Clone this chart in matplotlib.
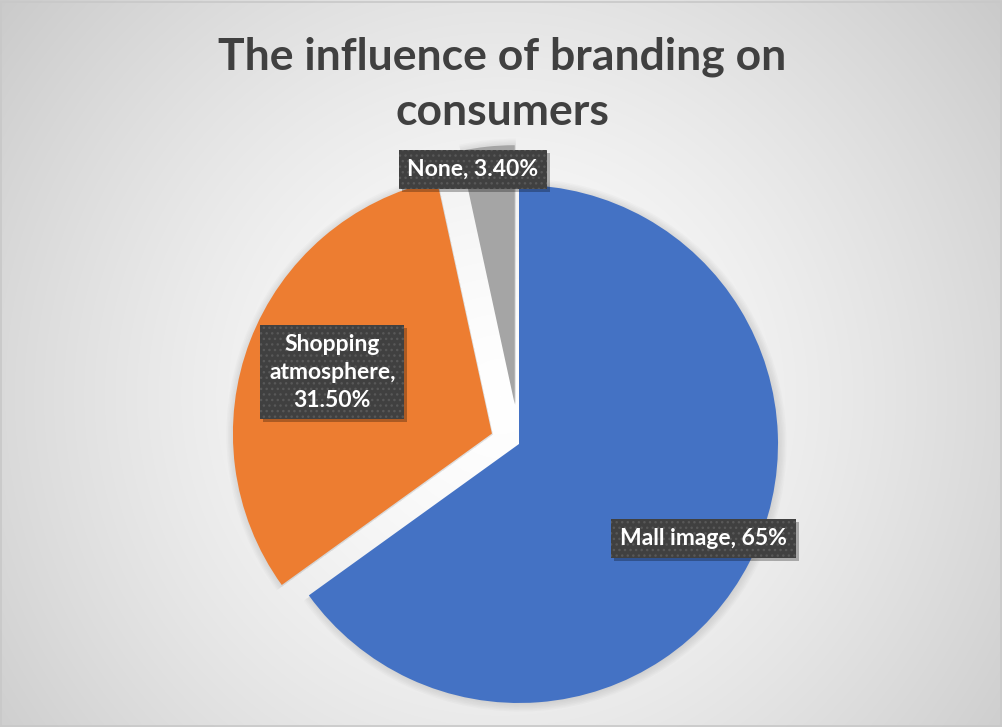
import matplotlib.pyplot as plt
import matplotlib.patches as mpatches
import matplotlib.transforms as mtransforms
import numpy as np

plt.rcParams['font.family'] = ['Lato', 'DejaVu Sans']

#%% Data
categories = ['Mall image', 'Shopping\natmosphere', 'None']
shares = [65, 31.5, 3.4]
share_fmt = ['{:.0f}%', '{:.2f}%', '{:.2f}%']
colors = ['#4472C4', '#ED7D31', '#A5A5A5']
title = 'The influence of branding on\nconsumers'

#%% Figure in pixel units
W, H = 1003, 727
fig = plt.figure(figsize=(W / 100, H / 100), dpi=100)
ax = fig.add_axes([0, 0, 1, 1])

# radial grey background
yy, xx = np.mgrid[0:H, 0:W]
d = np.hypot(xx - 500, yy - 330) / np.hypot(560, 400)
shade = 1.0 - 0.23 * np.clip(d, 0, 1.2) ** 1.4
bg = np.dstack([shade] * 3)
ax.imshow(bg, extent=(0, W, 0, H), origin='lower', zorder=0, interpolation='bilinear')
ax.add_patch(mpatches.Rectangle((1, 1), W - 3, H - 3, fill=False,
                                edgecolor='#c8c8c8', lw=1.2, zorder=1))

#%% Pie
cx, cy, R = 519, 283, 259
wedges, _ = ax.pie(shares, colors=colors, startangle=90, counterclock=False,
                   center=(cx, cy), radius=R, explode=[0, 29, 40],
                   wedgeprops=dict(edgecolor='none', zorder=3))

# pie() resets the limits, so put the pixel frame back
ax.set_xlim(0, W)
ax.set_ylim(0, H)
ax.set_aspect('equal')
ax.axis('off')

# soft shadow under each slice
for w in wedges:
    wx, wy = w.center
    for k in range(6):
        sh = mpatches.Wedge((wx + 1, wy - 1), w.r + 1.5 * k, w.theta1, w.theta2,
                            facecolor='#606060', edgecolor='none', alpha=0.03, zorder=2)
        ax.add_patch(sh)

#%% Data labels
seps = [', ', ',\n', ', ']
label_dist = [0.80, 0.66, 0.92]
label_turn = [0, 0, 4]   # degrees
for w, name, sep, val, fmt, dist, turn in zip(wedges, categories, seps, shares,
                                              share_fmt, label_dist, label_turn):
    ang = np.deg2rad((w.theta1 + w.theta2) / 2 + turn)
    wx, wy = w.center
    lx = wx + dist * w.r * np.cos(ang)
    ly = wy + dist * w.r * np.sin(ang)
    txt = name + sep + fmt.format(val)
    shadow_tr = mtransforms.offset_copy(ax.transData, fig=fig, x=3, y=-3, units='dots')
    ax.text(lx, ly, txt, transform=shadow_tr, ha='center', va='center',
            fontsize=16.5, fontweight='bold', color='none', linespacing=1.4,
            bbox=dict(boxstyle='square,pad=0.38', facecolor='black', alpha=0.28,
                      edgecolor='none'), zorder=5)
    ax.text(lx, ly, txt, ha='center', va='center', fontsize=16.5, fontweight='bold',
            color='white', linespacing=1.4,
            bbox=dict(boxstyle='square,pad=0.38', facecolor='#404040',
                      edgecolor='#585858', linewidth=0, hatch='...'), zorder=6)

#%% Title
ax.text(502, H - 84, title, ha='center', va='center', fontsize=32,
        fontweight='bold', color='#404040', linespacing=1.45, zorder=6)

fig.savefig('out.png', dpi=100)
